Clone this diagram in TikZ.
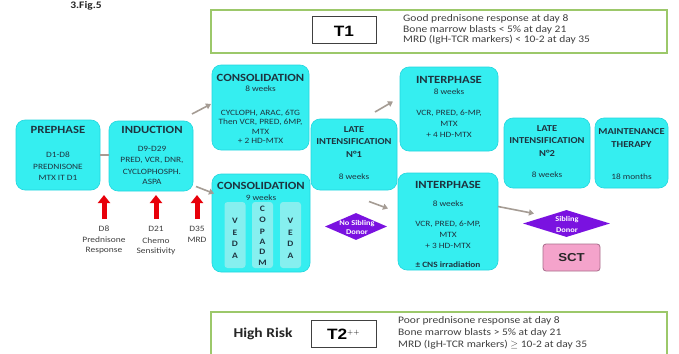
\documentclass[tikz,border=0pt]{standalone}
\usepackage{fontspec}
\setmainfont[FakeStretch=1.15]{Carlito}
\newfontfamily\arialf[FakeStretch=1.15]{Liberation Sans}
\usetikzlibrary{arrows.meta,shapes.geometric}
\definecolor{cy}{HTML}{35EEF0}
\definecolor{cyb}{HTML}{22D6DE}
\definecolor{cyl}{HTML}{86EFEF}
\definecolor{grn}{HTML}{9CC86A}
\definecolor{pur}{HTML}{7A12E0}
\definecolor{pnk}{HTML}{F4A3CB}
\definecolor{pnkb}{HTML}{A86E8C}
\definecolor{gry}{HTML}{A59C94}
\definecolor{rd}{HTML}{E8000A}
\definecolor{txt}{HTML}{1E3440}
\begin{document}
\begin{tikzpicture}[x=1pt,y=-1pt,
  cbox/.style={draw=cyb, fill=cy, rounded corners=9pt, line width=0.6pt, inner sep=0pt},
  colbox/.style={fill=cyl, rounded corners=3pt, inner sep=0pt, minimum width=21pt, minimum height=66pt},
  ttl/.style={font=\bfseries\fontsize{11}{13}\selectfont, text=txt, inner sep=0pt},
  sttl/.style={font=\bfseries\fontsize{9.1}{11}\selectfont, text=txt, inner sep=0pt},
  bd/.style={font=\fontsize{8.1}{10}\selectfont, text=txt, inner sep=0pt},
  lbl/.style={font=\fontsize{8.2}{10}\selectfont, text=black!75, inner sep=0pt},
  ltr/.style={font=\bfseries\fontsize{8.3}{10}\selectfont, text=txt, inner sep=0pt},
  gbox/.style={draw=grn, line width=2pt, inner sep=0pt},
  tbox/.style={draw=black!75, line width=1pt, fill=white, inner sep=0pt},
  crit/.style={font=\fontsize{10}{11}\selectfont, text=black!75, inner sep=0pt, anchor=west},
  dia/.style={diamond, fill=pur, inner sep=0pt},
  dtxt/.style={font=\bfseries\fontsize{7.3}{9}\selectfont, text=white, inner sep=0pt},
  garrow/.style={draw=gry, line width=1.6pt, -{Triangle[length=5pt,width=6pt]}},
  rarrow/.style={draw=rd, line width=5pt, -{Triangle[length=8pt,width=12pt]}}
]
\clip (0,0) rectangle (679,353);
\fill[white] (0,0) rectangle (679,353);

% title
\node[font=\bfseries\fontsize{10}{12}\selectfont, text=black!85, anchor=base, inner sep=0pt] (fig) at (86,9) {3.Fig.5};

% T1 box
\node[gbox, minimum width=456pt, minimum height=43pt] (t1o) at (439,31.5) {};
\node[tbox, minimum width=64pt, minimum height=27pt] (t1i) at (344,30.5) {};
\node[font=\arialf\bfseries\fontsize{15}{17}\selectfont, inner sep=0pt] (t1t) at (344,31) {T1};
\node[crit] (c11) at (403,19) {Good prednisone response at day 8};
\node[crit] (c12) at (403,29.5) {Bone marrow blasts < 5\% at day 21};
\node[crit] (c13) at (403,40) {MRD (IgH-TCR markers) < 10-2 at day 35};

% T2 box
\node[gbox, minimum width=456pt, minimum height=50pt] (t2o) at (439,337) {};
\node[font=\bfseries\fontsize{13.5}{16}\selectfont, text=black!85, inner sep=0pt] (hr) at (263,334) {High Risk};
\node[tbox, minimum width=65pt, minimum height=27pt] (t2i) at (343.5,333.5) {};
\node[font=\arialf\bfseries\fontsize{15}{17}\selectfont, inner sep=0pt] (t2t) at (343.5,334) {T2$^{\scriptscriptstyle ++}$};
\node[crit] (c21) at (398,321) {Poor prednisone response at day 8};
\node[crit] (c22) at (398,333) {Bone marrow blasts > 5\% at day 21};
\node[crit] (c23) at (398,345) {MRD (IgH-TCR markers) $\geq$ 10-2 at day 35};

% boxes
\node[cbox, minimum width=84pt, minimum height=70pt] (pre) at (58,155) {};
\node[cbox, minimum width=84pt, minimum height=70pt] (ind) at (151,156) {};
\node[cbox, minimum width=97pt, minimum height=85pt] (con1) at (260.5,107.5) {};
\node[cbox, minimum width=98pt, minimum height=98pt] (con2) at (261,223) {};
\node[cbox, minimum width=86pt, minimum height=71pt] (late1) at (354,154.5) {};
\node[cbox, minimum width=98pt, minimum height=84pt] (int1) at (449,109) {};
\node[cbox, minimum width=100pt, minimum height=97pt] (int2) at (448,221.5) {};
\node[cbox, minimum width=86pt, minimum height=70pt] (late2) at (547,153) {};
\node[cbox, minimum width=73pt, minimum height=70pt] (maint) at (631.5,153) {};

% prephase
\node[ttl] (pre1) at (58,130) {PREPHASE};
\node[bd] (pre2) at (58,155) {D1-D8};
\node[bd] (pre3) at (58,166.5) {PREDNISONE};
\node[bd] (pre4) at (58,178) {MTX IT D1};
% induction
\node[ttl] (ind1) at (152,130) {INDUCTION};
\node[bd] (ind2) at (152,149) {D9-D29};
\node[bd] (ind3) at (152,160) {PRED, VCR, DNR,};
\node[bd] (ind4) at (152,171.5) {CYCLOPHOSPH.};
\node[bd] (ind5) at (152,182) {ASPA};
% consolidation 1
\node[ttl] (con11) at (260.5,78) {CONSOLIDATION};
\node[bd] (con12) at (260.5,89) {8 weeks};
\node[bd] (con13) at (260.5,113) {CYCLOPH, ARAC, 6TG};
\node[bd] (con14) at (260.5,122.5) {Then VCR, PRED, 6MP,};
\node[bd] (con15) at (260.5,131.5) {MTX};
\node[bd] (con16) at (260.5,141) {+ 2 HD-MTX};
% consolidation 2
\node[ttl] (con21) at (261,186) {CONSOLIDATION};
\node[bd] (con22) at (261,198) {9 weeks};
\node[colbox] (col1) at (235,235) {};
\node[colbox] (col2) at (262.5,235) {};
\node[colbox] (col3) at (290.5,235) {};
\node[ltr] (v1) at (235,221) {V};
\node[ltr] (v2) at (235,232.5) {E};
\node[ltr] (v3) at (235,244) {D};
\node[ltr] (v4) at (235,256) {A};
\node[ltr] (w1) at (262.5,209) {C};
\node[ltr] (w2) at (262.5,220) {O};
\node[ltr] (w3) at (262.5,231.5) {P};
\node[ltr] (w4) at (262.5,241.5) {A};
\node[ltr] (w5) at (262.5,252) {D};
\node[ltr] (w6) at (262.5,263) {M};
\node[ltr] (x1) at (290.5,221) {V};
\node[ltr] (x2) at (290.5,232.5) {E};
\node[ltr] (x3) at (290.5,244) {D};
\node[ltr] (x4) at (290.5,256) {A};
% late intensification 1
\node[sttl] (l11) at (354,130) {LATE};
\node[sttl] (l12) at (354,142) {INTENSIFICATION};
\node[sttl] (l13) at (354,154) {N°1};
\node[bd] (l14) at (354,177) {8 weeks};
% interphase 1
\node[ttl] (i11) at (449,80) {INTERPHASE};
\node[bd] (i12) at (449,92) {8 weeks};
\node[bd] (i13) at (449,113) {VCR, PRED, 6-MP,};
\node[bd] (i14) at (449,124) {MTX};
\node[bd] (i15) at (449,135) {+ 4 HD-MTX};
% interphase 2
\node[ttl] (i21) at (448,185) {INTERPHASE};
\node[bd] (i22) at (448,204) {8 weeks};
\node[bd] (i23) at (448,224) {VCR, PRED, 6-MP,};
\node[bd] (i24) at (448,235) {MTX};
\node[bd] (i25) at (448,246) {+ 3 HD-MTX};
\node[bd, font=\bfseries\fontsize{8.1}{10}\selectfont] (i26) at (448,265) {± CNS irradiation};
% late intensification 2
\node[sttl] (l21) at (547,129) {LATE};
\node[sttl] (l22) at (547,140.5) {INTENSIFICATION};
\node[sttl] (l23) at (547,153) {N°2};
\node[bd] (l24) at (547,175) {8 weeks};
% maintenance
\node[sttl] (m1) at (631.5,132) {MAINTENANCE};
\node[sttl] (m2) at (631.5,144.5) {THERAPY};
\node[bd] (m3) at (631.5,177) {18 months};

% diamonds
\node[dia, minimum width=62pt, minimum height=27pt] (nsd) at (356,226.5) {};
\node[dtxt] (nsd1) at (357,223.5) {No Sibling};
\node[dtxt] (nsd2) at (357,232.5) {Donor};
\node[dia, minimum width=87pt, minimum height=27pt] (sd) at (566.5,223.5) {};
\node[dtxt] (sd1) at (567,220) {Sibling};
\node[dtxt] (sd2) at (567,230.5) {Donor};

% SCT
\node[draw=pnkb, fill=pnk, rounded corners=3pt, line width=0.8pt, minimum width=57pt, minimum height=27pt, inner sep=0pt,
      font=\arialf\bfseries\fontsize{11.5}{13}\selectfont, text=black!85] (sct) at (571.5,257.5) {SCT};

% connectors
\draw[draw=gry, line width=1.2pt] (pre.east) -- (ind.west |- pre.east);
\coordinate (a1s) at (192,114); \coordinate (a1e) at (211,104);
\coordinate (a2s) at (196,186.5); \coordinate (a2e) at (214,193.5);
\coordinate (a3s) at (375,112); \coordinate (a3e) at (393,101.5);
\coordinate (a4s) at (369,201.5); \coordinate (a4e) at (388,208.5);
\coordinate (a5s) at (498,206.5); \coordinate (a5e) at (534,213.5);
\draw[garrow] (a1s) -- (a1e);
\draw[garrow] (a2s) -- (a2e);
\draw[garrow] (a3s) -- (a3e);
\draw[garrow] (a4s) -- (a4e);
\draw[garrow] (a5s) -- (a5e);

% red arrows and labels
\node[lbl] (r1a) at (104,229) {D8};
\node[lbl] (r1b) at (104,240) {Prednisone};
\node[lbl] (r1c) at (104,250.5) {Response};
\node[lbl] (r2a) at (156,229) {D21};
\node[lbl] (r2b) at (156,240.5) {Chemo};
\node[lbl] (r2c) at (156,251.5) {Sensitivity};
\node[lbl] (r3a) at (197,229) {D35};
\node[lbl] (r3b) at (197,240) {MRD};
\coordinate (r1s) at (104,219); \coordinate (r1e) at (104,195);
\coordinate (r2s) at (156,219); \coordinate (r2e) at (156,195);
\coordinate (r3s) at (197,219); \coordinate (r3e) at (197,195);
\draw[rarrow] (r1s) -- (r1e);
\draw[rarrow] (r2s) -- (r2e);
\draw[rarrow] (r3s) -- (r3e);
\end{tikzpicture}
\end{document}
